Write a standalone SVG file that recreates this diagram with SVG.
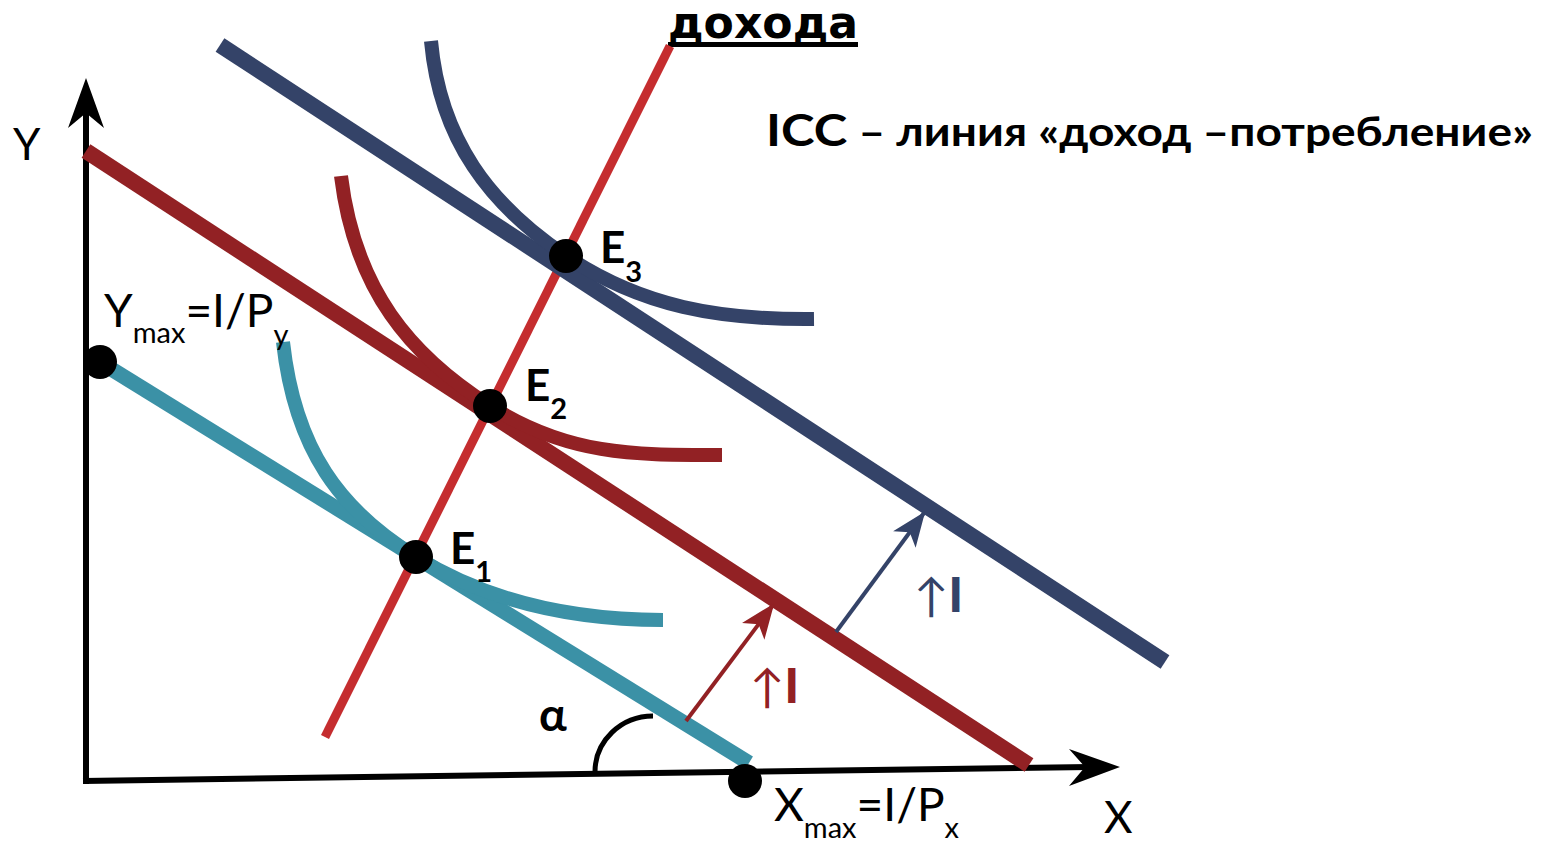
<svg xmlns="http://www.w3.org/2000/svg" width="1543" height="841" viewBox="0 0 1543 841">
<style>
.lbl{font-family:Lato,"Open Sans","Liberation Sans",sans-serif;fill:#000}
.e{font-family:Lato,"Open Sans","Liberation Sans",sans-serif;font-weight:bold;font-size:44px;fill:#000}
.bl{fill:none;stroke-linecap:butt}
.ic{fill:none;stroke-linecap:butt}
.pt{fill:#000}
</style>
<defs>
<marker id="arRed" viewBox="-40 -20 45 40" markerWidth="45" markerHeight="40" refX="0" refY="0" orient="auto" markerUnits="userSpaceOnUse">
<path d="M2,0 L-33,-14 L-24,0 L-33,14 Z" fill="#922124"/>
</marker>
<marker id="arNavy" viewBox="-40 -20 45 40" markerWidth="45" markerHeight="40" refX="0" refY="0" orient="auto" markerUnits="userSpaceOnUse">
<path d="M2,0 L-33,-14 L-24,0 L-33,14 Z" fill="#344368"/>
</marker>
</defs>
<rect width="1543" height="841" fill="#fff"/>

<g id="title-top">
<text x="668" y="38" font-family="'DejaVu Sans',sans-serif" font-weight="bold" font-size="44" textLength="190" lengthAdjust="spacingAndGlyphs">дохода</text>
<rect x="668" y="42" width="190" height="5" fill="#000"/>
</g>
<g id="title-icc">
<text x="766" y="146" font-family="Lato,'Open Sans','Liberation Sans',sans-serif" font-weight="bold" font-size="40" textLength="767" lengthAdjust="spacingAndGlyphs"><tspan font-size="44">ICC</tspan> – линия «доход –потребление»</text>
</g>

<g id="axes">
<line x1="86" y1="784" x2="86" y2="110" stroke="#000" stroke-width="6"/>
<polygon points="86,78 104,128 86,113 68,128" fill="#000"/>
<line x1="83" y1="781" x2="1090" y2="767" stroke="#000" stroke-width="6"/>
<polygon points="1120,767 1069,786 1085,767 1069,749" fill="#000"/>
<text class="lbl" x="13" y="160" font-size="44">Y</text>
<text class="lbl" x="1104" y="833" font-size="44">X</text>
</g>

<g id="icc-line">
<line x1="325" y1="737" x2="670" y2="46" stroke="#C52D2F" stroke-width="9"/>
</g>

<g id="budget1">
<line class="bl" x1="100" y1="362" x2="749" y2="763" stroke="#3B91A6" stroke-width="15"/>
</g>
<g id="budget2">
<line class="bl" x1="86" y1="151" x2="1029" y2="765" stroke="#922124" stroke-width="16"/>
</g>
<g id="budget3">
<line class="bl" x1="220" y1="45" x2="1165" y2="662" stroke="#344368" stroke-width="16"/>
</g>

<g id="ic1">
<path class="ic" d="M283,342 C295,450 340,510 416,557 S580,620 663,620" stroke="#3B91A6" stroke-width="14"/>
</g>
<g id="ic2">
<path class="ic" d="M341,176 C355,290 410,355 490,406 S640,455 722,455" stroke="#922124" stroke-width="14"/>
</g>
<g id="ic3">
<path class="ic" d="M431,41 C440,140 490,205 566,256 S720,320 814,319" stroke="#344368" stroke-width="14"/>
</g>

<g id="angle">
<path d="M595,772 A58,56 0 0 1 653,716" fill="none" stroke="#000" stroke-width="5"/>
<text class="lbl" x="539" y="731" font-size="46" font-weight="bold">α</text>
</g>

<g id="connectors">
<line x1="686" y1="721" x2="773" y2="605" stroke="#922124" stroke-width="4" marker-end="url(#arRed)"/>
<line x1="836" y1="632" x2="924" y2="513" stroke="#344368" stroke-width="4" marker-end="url(#arNavy)"/>
</g>

<g id="label-up1">
<text x="750" y="703" font-family="Lato,'Open Sans','Liberation Sans',sans-serif" font-size="46" fill="#922124">↑<tspan font-weight="900" font-size="48">I</tspan></text>
</g>
<g id="label-up2">
<text x="914" y="612" font-family="Lato,'Open Sans','Liberation Sans',sans-serif" font-size="46" fill="#344368">↑<tspan font-weight="900" font-size="48">I</tspan></text>
</g>

<g id="ymax">
<circle class="pt" cx="100" cy="362" r="17"/>
<text class="lbl" x="104" y="327" font-size="46">Y<tspan font-size="29" dy="16">max</tspan><tspan dy="-16">=I/P</tspan><tspan font-size="29" dy="18">y</tspan></text>
</g>
<g id="xmax">
<circle class="pt" cx="745" cy="781" r="17"/>
<text class="lbl" x="774" y="821" font-size="46">X<tspan font-size="29" dy="17">max</tspan><tspan dy="-17">=I/P</tspan><tspan font-size="29" dy="17">x</tspan></text>
</g>
<g id="E1">
<circle class="pt" cx="416" cy="557" r="17"/>
<text class="e" x="450" y="564">E<tspan font-size="29" dy="18">1</tspan></text>
</g>
<g id="E2">
<circle class="pt" cx="490" cy="406" r="17"/>
<text class="e" x="525" y="401">E<tspan font-size="29" dy="18">2</tspan></text>
</g>
<g id="E3">
<circle class="pt" cx="566" cy="256" r="17"/>
<text class="e" x="600" y="263">E<tspan font-size="29" dy="19">3</tspan></text>
</g>
</svg>
